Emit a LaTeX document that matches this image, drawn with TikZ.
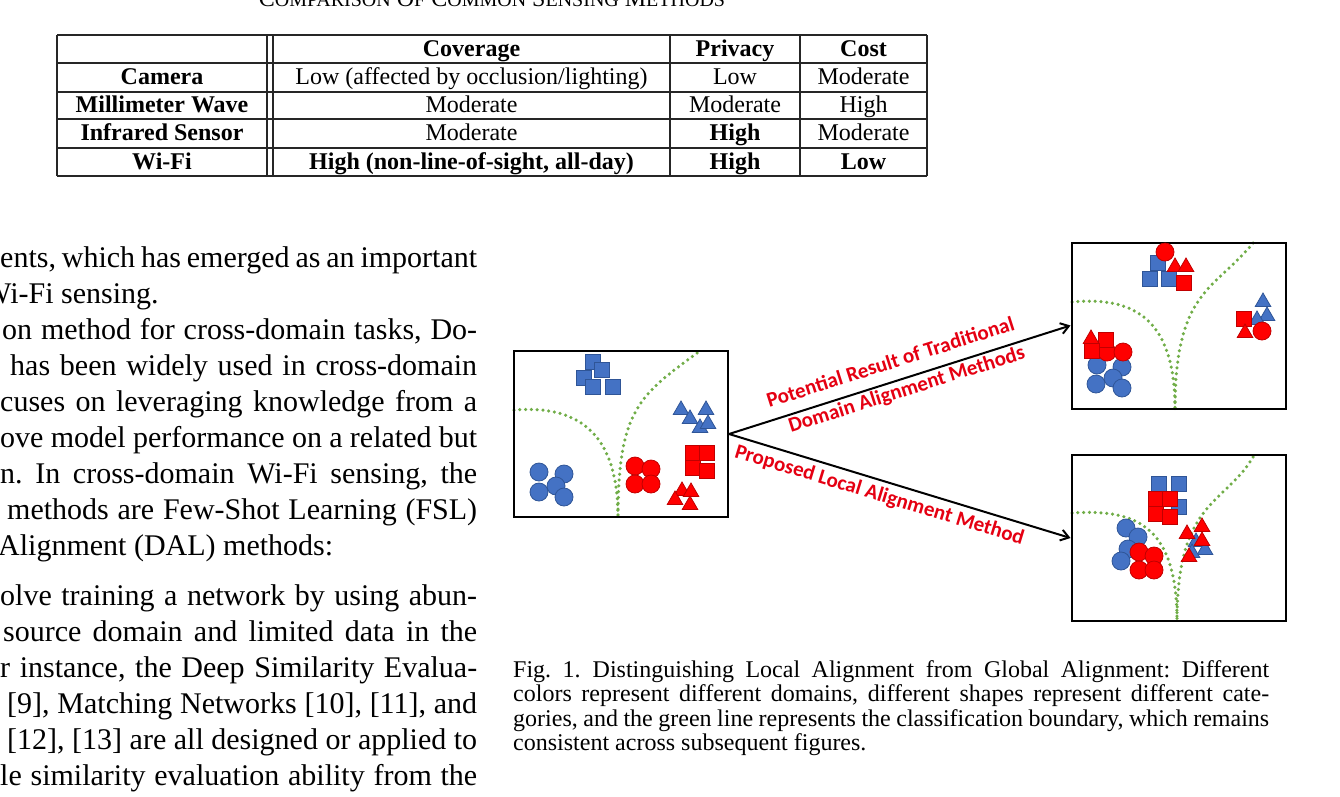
\documentclass[tikz,border=0pt]{standalone}
\usepackage{fontspec}
\setmainfont{Liberation Serif}
\newfontfamily\labelfont{Carlito}
\usepackage{tikz}
\usetikzlibrary{arrows.meta, positioning, shapes.geometric}
\definecolor{dotgreen}{HTML}{70AD47}
\definecolor{bluefill}{HTML}{4472C4}
\definecolor{blueline}{HTML}{2F5597}
\definecolor{redfill}{HTML}{FF0000}
\definecolor{redline}{HTML}{C00000}
\definecolor{labelred}{HTML}{E50012}
\newcommand{\tcap}[2]{#1{\fontsize{20}{20}\selectfont #2}}
\tikzstyle{arr}=[-{Straight Barb[length=8pt,width=11pt]},line width=2pt,color=black]
\tikzstyle{rule}=[line width=1.2pt,color=black!85]
\tikzstyle{panel}=[draw=black,line width=2pt,minimum width=214pt,minimum height=166pt,inner sep=0pt]
\tikzstyle{boundary}=[dotgreen,line width=3.5pt,line cap=round,dash pattern=on 0pt off 5.8pt]
\tikzstyle{bsq}=[rectangle,fill=bluefill,draw=blueline,line width=0.8pt,minimum size=15pt,inner sep=0pt]
\tikzstyle{rsq}=[bsq,fill=redfill,draw=redline]
\tikzstyle{bci}=[circle,fill=bluefill,draw=blueline,line width=0.8pt,minimum size=18pt,inner sep=0pt]
\tikzstyle{rci}=[bci,fill=redfill,draw=redline]
\tikzstyle{btr}=[regular polygon,regular polygon sides=3,fill=bluefill,draw=blueline,line width=0.8pt,minimum size=18pt,inner sep=0pt,yshift=-2pt]
\tikzstyle{rtr}=[btr,fill=redfill,draw=redline]
\tikzstyle{lbl}=[font=\labelfont\bfseries\fontsize{21}{26}\selectfont,text=labelred,sloped,inner sep=2pt]
\tikzstyle{cell}=[anchor=base,inner sep=0pt,font=\fontsize{24}{24}\selectfont]
\tikzstyle{body}=[anchor=base west,inner sep=0pt,font=\fontsize{30}{36}\selectfont]
\tikzstyle{capline}=[anchor=base west,inner sep=0pt,font=\fontsize{24}{24}\selectfont]
\frenchspacing

\begin{document}
\begin{tikzpicture}[x=1pt,y=-1pt]
  \fill[white] (0,0) rectangle (1340,796);
  \useasboundingbox (0,0) rectangle (1340,796);

  \node[anchor=base,inner sep=0pt,font=\fontsize{24}{24}\selectfont] (ttl) at (492,6)
    {\tcap{C}{OMPARISON} \tcap{O}{F} \tcap{C}{OMMON} \tcap{S}{ENSING} \tcap{M}{ETHODS}};
  \foreach \y in {35,63,92,119,148,176} \draw[rule] (57,\y) -- (927,\y);
  \foreach \x in {57,267,273,670,800,927} \draw[rule] (\x,35) -- (\x,176);
  \node[cell] (h2) at (471.5,56) {\textbf{Coverage}};
  \node[cell] (h3) at (735,56) {\textbf{Privacy}};
  \node[cell] (h4) at (863.5,56) {\textbf{Cost}};
  \node[cell] (r1) at (162,84.5) {\textbf{Camera}};
  \node[cell] (r1b) at (471.5,84.5) {Low (affected by occlusion/lighting)};
  \node[cell] (r1c) at (735,84.5) {Low};
  \node[cell] (r1d) at (863.5,84.5) {Moderate};
  \node[cell] (r2) at (162,112.5) {\textbf{Millimeter Wave}};
  \node[cell] (r2b) at (471.5,112.5) {Moderate};
  \node[cell] (r2c) at (735,112.5) {Moderate};
  \node[cell] (r2d) at (863.5,112.5) {High};
  \node[cell] (r3) at (162,140.5) {\textbf{Infrared Sensor}};
  \node[cell] (r3b) at (471.5,140.5) {Moderate};
  \node[cell] (r3c) at (735,140.5) {\textbf{High}};
  \node[cell] (r3d) at (863.5,140.5) {Moderate};
  \node[cell] (r4) at (162,169) {\textbf{Wi-Fi}};
  \node[cell] (r4b) at (471.5,169) {\textbf{High (non-line-of-sight, all-day)}};
  \node[cell] (r4c) at (735,169) {\textbf{High}};
  \node[cell] (r4d) at (863.5,169) {\textbf{Low}};

  \node[body] (t1) at (0,267) {\makebox[477pt][s]{ents, which has emerged as an important}};
  \node[body] (t2) at (-17,303) {Wi-Fi sensing.};
  \node[body] (t3) at (2,339) {\makebox[475pt][s]{on method for cross-domain tasks, Do-}};
  \node[body] (t4) at (10,375) {\makebox[467pt][s]{has been widely used in cross-domain}};
  \node[body] (t5) at (0,411) {\makebox[477pt][s]{cuses on leveraging knowledge from a}};
  \node[body] (t6) at (0,447) {\makebox[477pt][s]{ove model performance on a related but}};
  \node[body] (t7) at (0,483) {\makebox[477pt][s]{n. In cross-domain Wi-Fi sensing, the}};
  \node[body] (t8) at (7,519) {\makebox[470pt][s]{methods are Few-Shot Learning (FSL)}};
  \node[body] (t9) at (-2,555) {Alignment (DAL) methods:};
  \node[body] (t10) at (0,605) {\makebox[477pt][s]{olve training a network by using abun-}};
  \node[body] (t11) at (3,641) {\makebox[474pt][s]{source domain and limited data in the}};
  \node[body] (t12) at (0,677) {\makebox[477pt][s]{r instance, the Deep Similarity Evalua-}};
  \node[body] (t13) at (7,713) {\makebox[470pt][s]{[9], Matching Networks [10], [11], and}};
  \node[body] (t14) at (7,749) {\makebox[470pt][s]{[12], [13] are all designed or applied to}};
  \node[body] (t15) at (0,785) {\makebox[477pt][s]{le similarity evaluation ability from the}};

  \draw[boundary] (514,410) .. controls (575,405) and (618,430) .. (618,517);
  \draw[boundary] (697,353) .. controls (640,395) and (618,410) .. (618,517);
  \draw[boundary] (1072,302) .. controls (1135,296) and (1175,320) .. (1175,409);
  \draw[boundary] (1253,243) .. controls (1215,290) and (1175,290) .. (1175,409);
  \draw[boundary] (1072,513) .. controls (1140,508) and (1177,530) .. (1177,621);
  \draw[boundary] (1253,457) .. controls (1225,505) and (1177,500) .. (1177,621);

  \node[panel] (src) at (621,434) {};
  \node[panel] (glob) at (1178.5,325.5) {};
  \node[panel] (loc) at (1178.5,538) {};

  \foreach \p [count=\i] in {(593,362),(602,370),(584,378),(593,387),(613,387)}
    \node[bsq] (sbs\i) at \p {};
  \foreach \p [count=\i] in {(681,408),(706,408),(690,417),(700,426),(708,422)}
    \node[btr] (sbt\i) at \p {};
  \foreach \p [count=\i] in {(539,472),(564,474),(539,492),(556,486),(564,497)}
    \node[bci] (sbc\i) at \p {};
  \foreach \p [count=\i] in {(635,466),(651,469),(635,484),(651,484)}
    \node[rci] (src\i) at \p {};
  \foreach \p [count=\i] in {(693,453),(707,453),(693,468),(707,471)}
    \node[rsq] (srs\i) at \p {};
  \foreach \p [count=\i] in {(682,489),(691,490),(675,498),(690,503)}
    \node[rtr] (srt\i) at \p {};

  \foreach \p [count=\i] in {(1158,263),(1150,279),(1169,279)}
    \node[bsq] (gbs\i) at \p {};
  \foreach \p [count=\i] in {(1097,365),(1122,367),(1096,384),(1113,378),(1122,388)}
    \node[bci] (gbc\i) at \p {};
  \foreach \p [count=\i] in {(1263,300),(1267,314),(1257,318)}
    \node[btr] (gbt\i) at \p {};
  \foreach \p [count=\i] in {(1165,252),(1107,352),(1123,352),(1262,331)}
    \node[rci] (grc\i) at \p {};
  \foreach \p [count=\i] in {(1184,283),(1106,340),(1092,351),(1244,319)}
    \node[rsq] (grs\i) at \p {};
  \foreach \p [count=\i] in {(1175,265),(1186,265),(1091,337),(1245,331)}
    \node[rtr] (grt\i) at \p {};

  \foreach \p [count=\i] in {(1159,484),(1179,484),(1179,507)}
    \node[bsq] (lbs\i) at \p {};
  \foreach \p [count=\i] in {(1126,528),(1138,537),(1128,549),(1121,561)}
    \node[bci] (lbc\i) at \p {};
  \foreach \p [count=\i] in {(1196,540),(1205,548),(1192,551)}
    \node[btr] (lbt\i) at \p {};
  \foreach \p [count=\i] in {(1156,499),(1170,499),(1156,514),(1170,517)}
    \node[rsq] (lrs\i) at \p {};
  \foreach \p [count=\i] in {(1139,552),(1154,556),(1139,570),(1154,570)}
    \node[rci] (lrc\i) at \p {};
  \foreach \p [count=\i] in {(1187,532),(1202,525),(1202,539),(1189,555)}
    \node[rtr] (lrt\i) at \p {};

  \draw[arr] (src.east) -- node[lbl,above=9.5pt,pos=0.49] (gl1) {Potential Result of Traditional}
    node[lbl,below=0pt,pos=0.51] (gl2) {Domain Alignment Methods} (glob.west);
  \draw[arr] (src.east) -- node[lbl,below=3pt,pos=0.453] (ll1) {Proposed Local Alignment Method} (loc.west);

  \node[capline] (c1) at (513,677) {\makebox[756pt][s]{Fig.~1.\hspace{12pt}Distinguishing Local Alignment from Global Alignment: Different}};
  \node[capline] (c2) at (513,701.5) {\makebox[756pt][s]{colors represent different domains, different shapes represent different cate-}};
  \node[capline] (c3) at (513,726) {\makebox[756pt][s]{gories, and the green line represents the classification boundary, which remains}};
  \node[capline] (c4) at (513,750.5) {consistent across subsequent figures.};
\end{tikzpicture}
\end{document}
